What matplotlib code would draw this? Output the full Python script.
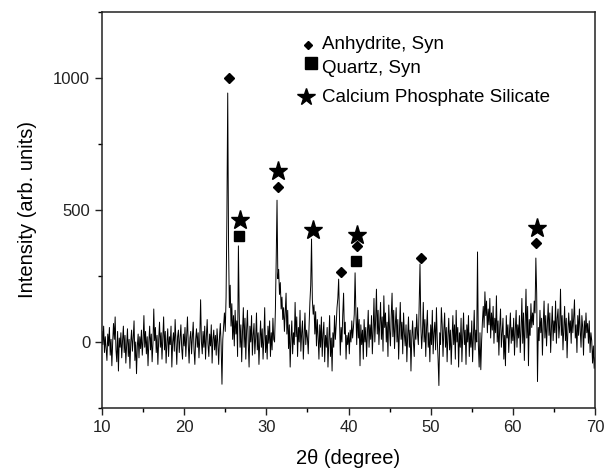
import numpy as np
import matplotlib
matplotlib.use("Agg")
import matplotlib.pyplot as plt
from matplotlib.ticker import MultipleLocator

plt.rcParams['font.family'] = ['Liberation Sans', 'DejaVu Sans']

# scan grid: 10..70 deg, step 0.1 (one row of intensities per degree)
two_theta = np.round(np.arange(10.0, 70.0001, 0.1), 2)

intensity = [
    40, -10, 60, -40, 20, -25, -70, 30, -15, 55,       # 10
    -50, 10, -90, 0, 70, 10, 95, -30, -75, 40,         # 11
    -110, 15, -20, 35, -60, 5, 60, -40, 25, -80,       # 12
    -10, 50, -55, 10, -100, 0, 45, -35, 15, 80,        # 13
    -70, 0, -120, -15, 30, -60, 20, -25, 45, -50,      # 14
    5, 100, -20, 40, -45, 20, -90, 0, 60, -30,         # 15
    30, -75, -5, 125, 5, 55, -40, 25, -85, 10,         # 16
    75, -20, 35, -65, 15, 95, -30, 40, -80, 0,         # 17
    50, -55, 20, -10, 60, -95, 0, 35, -35, 85,         # 18
    0, -85, 20, 45, -40, 10, 65, -25, -65, 30,         # 19
    -15, 55, -55, 25, 95, -10, -80, 15, 40, -45,       # 20
    20, 75, -30, -85, 10, 50, -20, 35, -60, 15,        # 21
    160, 0, -45, 40, -20, 60, -65, 20, 85, -10,        # 22
    -55, 30, -15, 65, -80, 10, 45, -30, 25, -50,       # 23
    50, -5, -85, 20, 70, -15, -160, 10, 60, 110,       # 24
    40, 170, 480, 943, 370, 130, 215, 60, 145, 10,     # 25
    100, -15, 120, 30, 80, -55, 364, 110, -20, 65,     # 26
    -75, 40, 130, -20, 90, -65, 45, 120, -5, -95,      # 27
    60, 0, 100, -50, 25, 70, -45, 15, 110, -30,        # 28
    35, -85, 5, 80, -20, 50, -65, 15, 130, -40,        # 29
    25, -65, 60, -5, 80, -55, 35, -30, 90, 10,         # 30
    0, 120, 310, 537, 240, 275, 180, 225, 125, 170,    # 31
    85, 130, 40, 110, 185, 30, 120, -25, 65, -95,      # 32
    15, 80, -45, 35, -10, 150, 20, 95, -55, 55,        # 33
    0, 120, -35, 35, 80, -65, 25, 110, -10, 45,        # 34
    15, -45, 60, 150, 215, 390, 160, 105, 140, 30,     # 35
    115, -15, 85, 20, -65, 65, -20, 95, -55, 30,       # 36
    75, -75, 25, -20, 55, -95, 0, 100, -55, 15,        # 37
    -110, 35, -20, 100, 10, 65, 130, 165, 238, 95,     # 38
    -50, 55, 0, 105, 185, 30, 75, -65, 25, -10,        # 39
    35, -45, 45, 0, 80, 15, 55, 105, 262, 110,         # 40
    -10, 130, 15, 85, -90, 65, -10, 45, -65, 85,       # 41
    0, 55, -55, 35, 120, -20, 65, 10, 100, -45,        # 42
    45, 165, 0, 85, 200, 30, 120, -10, 65, 150,        # 43
    10, 95, -35, 175, 55, 110, 0, 75, -55, 140,        # 44
    45, -15, 100, 185, 20, 120, -25, 65, 130, 0,       # 45
    85, -65, 45, 150, 10, 75, -45, 110, 30, -15,       # 46
    65, -75, 25, 95, -20, 45, -110, 15, 80, 0,         # 47
    -55, 55, 10, 105, 30, -10, 135, 295, 65, -25,      # 48
    35, 150, 0, 85, -55, 55, 120, -20, 35, -75,        # 49
    65, -10, 120, -45, 35, 75, -30, 130, 10, -65,      # 50
    -165, 35, -10, 130, 65, -55, 45, 110, -20, 55,     # 51
    -75, 25, 90, -30, 45, -85, 15, 100, -10, 65,       # 52
    -65, 120, 0, 55, -95, 35, -20, 90, -75, 25,        # 53
    110, -10, 45, -85, 65, 0, 100, -55, 35, -20,       # 54
    80, -75, 25, 120, -30, 45, 0, 341, -10, -95,       # 55
    35, -105, 5, 80, 135, 55, 190, 100, 155, 35,       # 56
    125, 65, 165, 15, 110, 45, 135, -5, 90, 35,        # 57
    175, 0, 80, -50, 55, 125, -20, 35, 90, -65,        # 58
    25, -90, 100, 15, 65, -40, 45, 110, -5, 55,        # 59
    5, 90, -50, 45, 120, -20, 65, 15, 100, -40,        # 60
    45, 165, -5, 110, -70, 65, 200, 15, 135, -90,      # 61
    85, 25, 145, 55, 110, 65, 155, 110, 318, 185,      # 62
    -150, 55, 5, 120, 35, 90, -50, 65, 155, 15,        # 63
    100, -15, 65, 145, 25, 110, -40, 55, 135, 5,       # 64
    80, 35, 155, -5, 90, 125, 15, 65, 200, 25,         # 65
    100, -30, 55, 135, 5, 90, -60, 45, 110, 35,        # 66
    80, -5, 125, 35, 90, 160, 15, 65, -40, 100,        # 67
    25, 125, 45, -20, 100, 55, -50, 80, 15, 110,       # 68
    35, 70, -5, 80, -40, 35, 5, -80, -15, -100,        # 69
    -60,                                               # 70
]

# phase markers
anhydrite_x = [25.45, 31.4, 39.1, 41.0, 48.8, 62.85]
anhydrite_y = [1000, 587, 265, 364, 318, 375]
quartz_x = [26.65, 40.9]
quartz_y = [402, 307]
cps_x = [26.8, 31.4, 35.65, 41.05, 62.95]
cps_y = [462, 648, 424, 405, 432]

legend_labels = ["Anhydrite, Syn", "Quartz, Syn", "Calcium Phosphate Silicate"]

fig = plt.figure(figsize=(6.05, 4.76), dpi=100)
ax = fig.add_axes([0.1686, 0.1429, 0.8149, 0.8319])

ax.plot(two_theta, intensity, color='black', lw=0.7)
ax.plot(anhydrite_x, anhydrite_y, 'D', color='black', ms=5, ls='none')
ax.plot(quartz_x, quartz_y, 's', color='black', ms=6.5, ls='none')
ax.plot(cps_x, cps_y, '*', color='black', ms=14, ls='none')

ax.set_xlim(10, 70)
ax.set_ylim(-250, 1250)
ax.xaxis.set_major_locator(MultipleLocator(10))
ax.xaxis.set_minor_locator(MultipleLocator(5))
ax.set_yticks([0, 500, 1000])
ax.yaxis.set_minor_locator(MultipleLocator(250))
ax.tick_params(which='major', direction='out', length=5, width=1, labelsize=12,
               colors='#222222')
ax.tick_params(which='minor', direction='out', length=3, width=1)
for s in ax.spines.values():
    s.set_linewidth(1.1)
    s.set_color('#222222')

ax.set_xlabel("2θ (degree)", fontsize=14.5, labelpad=10)
ax.set_ylabel("Intensity (arb. units)", fontsize=14.5, labelpad=12)

# legend drawn by hand (symbols sit slightly off the text baseline)
tr = ax.transAxes
def ax_xy(px, py):
    return ((px - 102) / 493.0, (408 - py) / 396.0)

ax.plot(*ax_xy(308, 45), 'D', color='black', ms=4.5, transform=tr, clip_on=False)
ax.plot(*ax_xy(311, 63), 's', color='black', ms=8, transform=tr, clip_on=False)
ax.plot(*ax_xy(306, 97), '*', color='black', ms=13, transform=tr, clip_on=False)
for lab, py in zip(legend_labels, [45, 69, 98]):
    ax.text(*ax_xy(322, py), lab, transform=tr, fontsize=13.5, va='center', ha='left')

fig.savefig("out.png", dpi=100)
